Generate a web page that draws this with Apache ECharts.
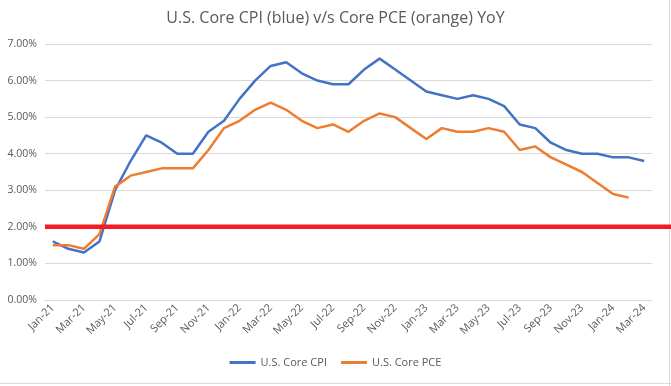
<!DOCTYPE html>
<html><head><meta charset="utf-8">
<script src="https://cdn.jsdelivr.net/npm/echarts@6/dist/echarts.min.js"></script>
<style>html,body{margin:0;padding:0;background:#fff}#c{width:671px;height:386px}</style>
</head><body><div id="c"></div>
<script>
const months = ['Jan-21','Feb-21','Mar-21','Apr-21','May-21','Jun-21','Jul-21','Aug-21','Sep-21','Oct-21','Nov-21','Dec-21',
'Jan-22','Feb-22','Mar-22','Apr-22','May-22','Jun-22','Jul-22','Aug-22','Sep-22','Oct-22','Nov-22','Dec-22',
'Jan-23','Feb-23','Mar-23','Apr-23','May-23','Jun-23','Jul-23','Aug-23','Sep-23','Oct-23','Nov-23','Dec-23',
'Jan-24','Feb-24','Mar-24'];
const coreCPI = [1.6,1.4,1.3,1.6,3.0,3.8,4.5,4.3,4.0,4.0,4.6,4.9,5.5,6.0,6.4,6.5,6.2,6.0,5.9,5.9,6.3,6.6,6.3,6.0,5.7,5.6,5.5,5.6,5.5,5.3,4.8,4.7,4.3,4.1,4.0,4.0,3.9,3.9,3.8];
const corePCE = [1.5,1.5,1.4,1.8,3.1,3.4,3.5,3.6,3.6,3.6,4.1,4.7,4.9,5.2,5.4,5.2,4.9,4.7,4.8,4.6,4.9,5.1,5.0,4.7,4.4,4.7,4.6,4.6,4.7,4.6,4.1,4.2,3.9,3.7,3.5,3.2,2.9,2.8];
const targetLevel = 2.0;
const yTicks = [0,1,2,3,4,5,6,7];

const FONT = 'Open Sans';
const chart = echarts.init(document.getElementById('c'), null, {renderer:'canvas'});
chart.setOption({
  animation:false,
  title:{text:'U.S. Core CPI (blue) v/s Core PCE (orange) YoY',left:'center',top:5,
    textStyle:{fontFamily:FONT,fontSize:16,fontWeight:'normal',color:'#595959'}},
  grid:{left:45,right:19,top:44,bottom:86},
  legend:{bottom:13,left:'center',itemWidth:26,itemHeight:3,itemGap:14,icon:'rect',
    textStyle:{fontFamily:FONT,fontSize:11,color:'#595959'},
    data:['U.S. Core CPI','U.S. Core PCE']},
  xAxis:{type:'category',data:months,boundaryGap:true,
    axisLine:{lineStyle:{color:'#D9D9D9'}},
    axisTick:{interval:1,length:5,lineStyle:{color:'#D9D9D9'}},
    axisLabel:{interval:1,rotate:45,fontFamily:FONT,fontSize:11,color:'#595959',margin:6}},
  yAxis:{type:'value',min:yTicks[0],max:yTicks[yTicks.length-1],interval:1,
    axisLine:{show:false},axisTick:{show:false},
    splitLine:{lineStyle:{color:'#D9D9D9'}},
    axisLabel:{formatter:v=>v.toFixed(2)+'%',fontFamily:FONT,fontSize:10.5,color:'#595959',margin:8}},
  series:[
    {name:'U.S. Core CPI',type:'line',data:coreCPI,symbol:'none',lineStyle:{width:2.5,color:'#4472C4'},itemStyle:{color:'#4472C4'}},
    {name:'U.S. Core PCE',type:'line',data:corePCE,symbol:'none',lineStyle:{width:2.5,color:'#ED7D31'},itemStyle:{color:'#ED7D31'}}
  ]
});
const yPix = chart.convertToPixel({yAxisIndex:0}, targetLevel);
const gridRect = chart.getModel().getComponent('grid',0).coordinateSystem.getRect();
chart.setOption({graphic:[
  {type:'line',shape:{x1:gridRect.x,y1:yPix,x2:671,y2:yPix},style:{stroke:'#F21C27',lineWidth:4.5},z:10},
  {type:'line',shape:{x1:0,y1:383.5,x2:671,y2:383.5},style:{stroke:'#D9D9D9',lineWidth:1}},
  {type:'line',shape:{x1:669.5,y1:0,x2:669.5,y2:386},style:{stroke:'#D9D9D9',lineWidth:1}}
]});
</script></body></html>
